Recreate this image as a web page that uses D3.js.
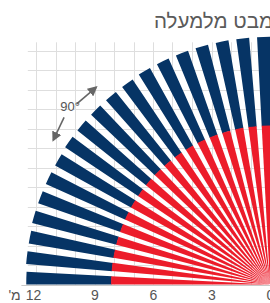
<!DOCTYPE html>
<html>
<head>
<meta charset="utf-8">
<script src="https://cdn.jsdelivr.net/npm/d3@7"></script>
<style>
  body { margin: 0; background: #fff; }
  svg { display: block; }
</style>
</head>
<body>
<svg id="chart"></svg>
<script>
// directions of the rays, in degrees from the ground line
const directions = [0, 5, 10, 15, 20, 25, 30, 35, 40, 45, 50, 55, 60, 65, 70, 75, 80, 85, 90];
// red part reaches this far (m)
const redReach = [8.15, 8.15, 8.15, 8.15, 8.15, 8.15, 8.15, 8.15, 8.15, 8.15, 8.15, 8.15, 8.15, 8.15, 8.15, 8.15, 8.15, 8.15, 8.15];
// blue part reaches this far (m)
const blueReach = [12.5, 12.55, 12.55, 12.6, 12.6, 12.6, 12.6, 12.65, 12.65, 12.65, 12.65, 12.65, 12.7, 12.7, 12.7, 12.7, 12.7, 12.7, 12.7];
const tickValues = [0, 3, 6, 9, 12];
const tickLabels = ['0', '3', '6', '9', '12'];
const unitLabel = "מ'";
const title = 'מבט מלמעלה';
const angleLabel = '90°';

const width = 270;
const height = 303;
const originX = 270;
const originY = 284.5;
const pxPerMeter = 19.5;
const gridMax = 12.42;
const navy = '#063465';
const red = '#ec1c2a';
const textColor = '#555';
const fontFamily = "'Liberation Sans Narrow', 'Liberation Sans', Roboto, sans-serif";

const svg = d3.select('#chart').
  attr('width', width).
  attr('height', height);

const x = d3.scaleLinear().
  domain([0, 12]).
  range([originX, originX - 12 * pxPerMeter]);

const y = d3.scaleLinear().
  domain([0, 12]).
  range([originY, originY - 12 * pxPerMeter]);

const r = d3.scaleLinear().
  domain([0, 12]).
  range([0, 12 * pxPerMeter]);

const angle = d3.scaleBand().
  domain(directions).
  range([0, Math.PI / 2]).
  paddingInner(0.38).
  paddingOuter(0);

// grid
const grid = svg.append('g').
  attr('class', 'grid').
  attr('stroke', '#dedede').
  attr('stroke-width', 1);

grid.selectAll('line.v').
  data(d3.range(0, 13)).
  enter().append('line').
  attr('class', 'v').
  attr('x1', d => Math.round(x(d)) + 0.5).
  attr('x2', d => Math.round(x(d)) + 0.5).
  attr('y1', y(0)).
  attr('y2', y(gridMax));

grid.selectAll('line.h').
  data(d3.range(1, 13)).
  enter().append('line').
  attr('class', 'h').
  attr('y1', d => Math.round(y(d)) + 0.5).
  attr('y2', d => Math.round(y(d)) + 0.5).
  attr('x1', x(0)).
  attr('x2', x(gridMax));

// rays
const arc = d3.arc();
const rays = svg.append('g').
  attr('class', 'rays').
  attr('transform', `translate(${originX}, ${originY})`);

const rayData = directions.map((d, i) => ({
  dir: d,
  red: redReach[i],
  blue: blueReach[i]
}));

rays.selectAll('path.blue').
  data(rayData).
  enter().append('path').
  attr('class', 'blue').
  attr('fill', navy).
  attr('d', d => arc({
    innerRadius: r(d.red) - 0.5,
    outerRadius: r(d.blue),
    startAngle: -Math.PI / 2 + angle(d.dir),
    endAngle: -Math.PI / 2 + angle(d.dir) + angle.bandwidth()
  }));

rays.selectAll('path.red').
  data(rayData).
  enter().append('path').
  attr('class', 'red').
  attr('fill', red).
  attr('d', d => arc({
    innerRadius: 0,
    outerRadius: r(d.red),
    startAngle: -Math.PI / 2 + angle(d.dir),
    endAngle: -Math.PI / 2 + angle(d.dir) + angle.bandwidth()
  }));

// bottom axis
const xAxis = d3.axisBottom(x).
  tickValues(tickValues).
  tickSize(0).
  tickFormat((d, i) => tickLabels[i]);

const axisG = svg.append('g').
  attr('class', 'axis x').
  attr('transform', `translate(0, ${originY + 1})`).
  call(xAxis);

axisG.select('.domain').remove();
axisG.append('line').
  attr('x1', x(0)).
  attr('x2', x(12.75)).
  attr('y1', 0).
  attr('y2', 0).
  attr('stroke', '#c8c8c8');

axisG.selectAll('text').
  attr('y', 14.5).
  attr('dy', 0).
  attr('dx', (d, i) => i === tickValues.length - 1 ? -3 : 0).
  attr('fill', textColor).
  attr('font-size', 14).
  attr('font-family', fontFamily);

axisG.append('text').
  text(unitLabel).
  attr('x', x(13.1)).
  attr('y', 14.5).
  attr('text-anchor', 'middle').
  attr('direction', 'rtl').
  attr('fill', textColor).
  attr('font-size', 14).
  attr('font-family', fontFamily);

// title
svg.append('text').
  text(title).
  attr('x', 273).
  attr('y', 28).
  attr('text-anchor', 'end').
  attr('fill', '#5a5a5a').
  attr('font-size', 20.5).
  attr('font-family', fontFamily);

// 90 degree annotation
const defs = svg.append('defs');
defs.append('marker').
  attr('id', 'head').
  attr('viewBox', '0 0 10 10').
  attr('refX', 8).
  attr('refY', 5).
  attr('markerWidth', 10).
  attr('markerHeight', 10).
  attr('markerUnits', 'userSpaceOnUse').
  attr('orient', 'auto').
  append('path').
  attr('d', 'M0,0 L10,5 L0,10 Z').
  attr('fill', '#666');

const arrows = [
  { from: [9.91, 9.26], to: [8.92, 10.11] },
  { from: [10.56, 8.57], to: [11.11, 7.41] }
];

svg.append('g').
  attr('class', 'annotation').
  selectAll('line').
  data(arrows).
  enter().append('line').
  attr('x1', d => x(d.from[0])).
  attr('y1', d => y(d.from[1])).
  attr('x2', d => x(d.to[0])).
  attr('y2', d => y(d.to[1])).
  attr('stroke', '#666').
  attr('stroke-width', 1.6).
  attr('marker-end', 'url(#head)');

svg.append('text').
  text(angleLabel).
  attr('x', x(10.25)).
  attr('y', y(8.92)).
  attr('text-anchor', 'middle').
  attr('fill', textColor).
  attr('font-size', 13).
  attr('font-family', fontFamily);
</script>
</body>
</html>
